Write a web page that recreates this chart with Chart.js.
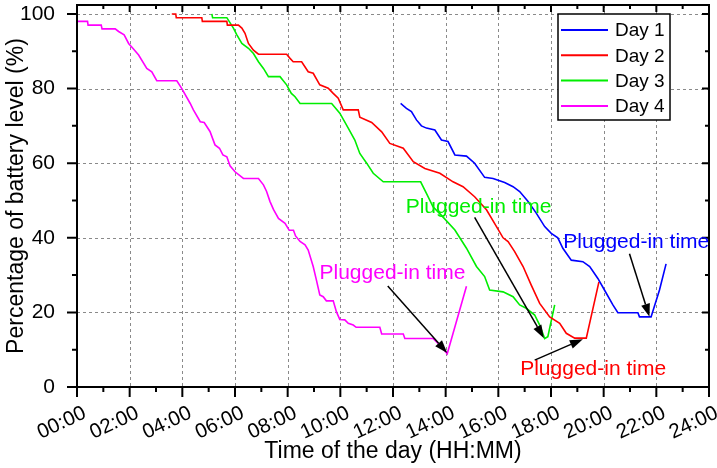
<!DOCTYPE html>
<html>
<head>
<meta charset="utf-8">
<script src="https://cdn.jsdelivr.net/npm/chart.js@4/dist/chart.umd.min.js"></script>
<style>
  html, body { margin: 0; padding: 0; background: #fff; }
  #wrap { width: 717px; height: 468px; }
</style>
</head>
<body>
<div id="wrap"><canvas id="bateria" width="717" height="468"></canvas></div>
<script>
// Datos: hora del día (h) y nivel de batería (%)
const day1Hours = [12.29, 12.51, 12.7, 12.89, 13.08, 13.27, 13.59, 13.84, 14.09, 14.35, 14.79, 15.1, 15.48, 15.8, 16.24, 16.56, 16.81, 17.13, 17.44, 17.76, 18.01, 18.26, 18.45, 18.77, 19.21, 19.47, 19.78, 20.03, 20.35, 20.54, 21.3, 21.36, 21.8, 22.12, 22.37];
const day1Level = [76, 74.7, 73.8, 71.6, 70, 69.4, 68.9, 66.2, 65.8, 62.2, 61.9, 60, 56.2, 55.9, 54.8, 53.7, 52.4, 49.7, 46.6, 43, 41.2, 40, 37.2, 34, 33.6, 32.3, 29.1, 26, 22, 19.9, 19.9, 18.8, 18.8, 26, 33];

const day2Hours = [3.6, 3.75, 3.77, 4.74, 4.76, 5.69, 5.71, 6.13, 6.26, 6.38, 6.51, 6.7, 6.89, 7.96, 8.09, 8.21, 8.53, 8.78, 8.97, 9.22, 9.54, 9.73, 9.92, 10.11, 10.68, 10.74, 11.19, 11.57, 11.88, 12.39, 12.77, 13.21, 13.78, 14.28, 14.66, 15.1, 15.55, 15.93, 16.18, 16.37, 16.62, 16.94, 17.25, 17.57, 17.95, 18.33, 18.58, 18.9, 19.34, 19.82];
const day2Level = [100, 100, 99, 99, 98, 98, 97, 97, 96.2, 94.8, 92.1, 90.3, 89.2, 89.2, 88.1, 87.2, 87.2, 84.5, 84.1, 81, 80.1, 78.7, 77.4, 74.3, 74.3, 72.3, 70.9, 68.4, 65.3, 64, 60.4, 58.6, 57.3, 55, 53.7, 51, 47.5, 43, 40, 39, 36.3, 32.3, 27.3, 22.4, 18.8, 17.1, 14.4, 13.1, 13.1, 28.2];

const day3Hours = [5.12, 5.15, 5.69, 5.94, 6.07, 6.26, 6.51, 6.7, 6.89, 7.08, 7.27, 7.71, 7.96, 8.14, 8.28, 8.47, 9.67, 9.98, 10.3, 10.55, 10.74, 11.0, 11.25, 11.63, 13.05, 13.27, 13.52, 13.84, 14.35, 14.79, 15.17, 15.48, 15.67, 16.18, 16.56, 16.81, 17.06, 17.38, 17.57, 17.76, 17.88, 18.14];
const day3Level = [100, 99, 99, 96.2, 94.4, 92.1, 90.8, 89.4, 87.2, 85.4, 83.2, 83.2, 81, 78.7, 77.8, 76, 76, 73.4, 69.4, 66.2, 62.6, 60, 57.3, 55, 55, 51.9, 48.3, 46, 42.1, 37.2, 32.3, 29.6, 26, 25.5, 24.2, 22, 21.1, 19.3, 16.6, 13, 13.5, 22];

const day4Hours = [0, 0.4, 0.42, 0.92, 0.95, 1.45, 1.58, 1.79, 1.96, 2.12, 2.34, 2.65, 2.84, 3.03, 3.79, 3.98, 4.3, 4.42, 4.68, 4.83, 5.05, 5.24, 5.41, 5.54, 5.69, 5.81, 6.0, 6.32, 6.89, 7.08, 7.2, 7.33, 7.46, 7.65, 7.9, 8.06, 8.22, 8.3, 8.47, 8.66, 8.78, 8.97, 9.09, 9.22, 9.35, 9.47, 9.73, 9.85, 9.98, 10.17, 10.3, 10.49, 10.6, 11.5, 11.57, 12.39, 12.45, 13.52, 13.84, 14.06, 14.79];
const day4Level = [98, 98, 97, 97, 96, 96, 95.3, 94.4, 92.1, 90.8, 89, 85.4, 84.5, 82.1, 82.1, 80, 76, 74.3, 71.1, 70.9, 68.5, 64.9, 64, 62.2, 61.7, 59.3, 57.7, 55.9, 55.9, 54.2, 52.4, 49.7, 47.6, 45.2, 43.9, 42, 42, 40.5, 39, 38.1, 36.7, 32.3, 28.7, 24.7, 24.2, 23.1, 23.1, 20.2, 18.1, 18, 17.1, 16.6, 16, 16, 14.2, 14.2, 13, 13, 10.8, 8.9, 27];

const dayLabels = ['Day 1', 'Day 2', 'Day 3', 'Day 4'];
const dayColors = ['#0000ff', '#ff0000', '#00ee00', '#ff00ff'];

// Ejes
const hourTicks = [0, 1, 2, 3, 4, 5, 6, 7, 8, 9, 10, 11, 12, 13, 14, 15, 16, 17, 18, 19, 20, 21, 22, 23, 24];
const levelTicks = [0, 10, 20, 30, 40, 50, 60, 70, 80, 90, 100];

// Anotaciones "Plugged-in time" (en unidades de datos), orden Day 1..Day 4
const noteText = ['Plugged-in time', 'Plugged-in time', 'Plugged-in time', 'Plugged-in time'];
const noteX = [21.24, 19.6, 15.25, 11.98];
const noteY = [38.9, 4.7, 48.3, 30.6];
const arrowFromX = [20.98, 17.38, 15.1, 11.8];
const arrowFromY = [35.7, 7.2, 45.5, 27.1];
const arrowToX = [21.74, 19.21, 17.73, 14.06];
const arrowToY = [18.8, 12.8, 13.1, 9.1];

const FONT = '"Liberation Sans", Arial, sans-serif';

const toPoints = (hs, vs) => hs.map((h, i) => ({ x: h, y: vs[i] }));
const series = [
  toPoints(day1Hours, day1Level),
  toPoints(day2Hours, day2Level),
  toPoints(day3Hours, day3Level),
  toPoints(day4Hours, day4Level)
];

// Rejilla punteada, marco y marcas de los ejes
const marcoPlugin = {
  id: 'marco',
  beforeDatasetsDraw(chart) {
    const { ctx, chartArea: a, scales: { x, y } } = chart;
    ctx.save();
    ctx.strokeStyle = '#8a8a8a';
    ctx.lineWidth = 1;
    ctx.setLineDash([3, 3]);
    ctx.beginPath();
    hourTicks.filter(h => h % 2 === 0 && h > 0 && h < 24).forEach(h => {
      const px = Math.round(x.getPixelForValue(h)) + 0.5;
      ctx.moveTo(px, a.top); ctx.lineTo(px, a.bottom);
    });
    levelTicks.filter(v => v % 20 === 0 && v > 0).forEach(v => {
      const py = Math.round(y.getPixelForValue(v)) + 0.5;
      ctx.moveTo(a.left, py); ctx.lineTo(a.right, py);
    });
    ctx.stroke();
    ctx.restore();
  },
  afterDatasetsDraw(chart) {
    const { ctx, chartArea: a, scales: { x, y } } = chart;
    ctx.save();
    ctx.strokeStyle = '#000';
    ctx.lineWidth = 2;
    ctx.beginPath();
    hourTicks.forEach(h => {
      const px = x.getPixelForValue(h);
      const major = h % 2 === 0;
      ctx.moveTo(px, a.bottom); ctx.lineTo(px, a.bottom + (major ? 10 : 5));
      ctx.moveTo(px, a.top); ctx.lineTo(px, a.top + (major ? 7 : 4));
    });
    levelTicks.forEach(v => {
      const py = y.getPixelForValue(v);
      const major = v % 20 === 0;
      ctx.moveTo(a.left, py); ctx.lineTo(a.left - (major ? 10 : 5), py);
      ctx.moveTo(a.right, py); ctx.lineTo(a.right - (major ? 7 : 4), py);
    });
    ctx.stroke();
    ctx.strokeRect(a.left, a.top, a.right - a.left, a.bottom - a.top);
    ctx.restore();
  },
  afterDraw(chart) {
    const { ctx, chartArea: a, scales: { x, y } } = chart;
    ctx.save();
    // flechas
    ctx.strokeStyle = '#000';
    ctx.fillStyle = '#000';
    ctx.lineWidth = 1.5;
    arrowFromX.forEach((fx, i) => {
      const x0 = x.getPixelForValue(fx), y0 = y.getPixelForValue(arrowFromY[i]);
      const x1 = x.getPixelForValue(arrowToX[i]), y1 = y.getPixelForValue(arrowToY[i]);
      const ang = Math.atan2(y1 - y0, x1 - x0);
      const len = 13, half = 4.5;
      const bx = x1 - len * Math.cos(ang), by = y1 - len * Math.sin(ang);
      ctx.beginPath();
      ctx.moveTo(x0, y0); ctx.lineTo(bx, by);
      ctx.stroke();
      ctx.beginPath();
      ctx.moveTo(x1, y1);
      ctx.lineTo(bx + half * Math.sin(ang), by - half * Math.cos(ang));
      ctx.lineTo(bx - half * Math.sin(ang), by + half * Math.cos(ang));
      ctx.closePath();
      ctx.fill();
    });
    // textos
    ctx.font = '21px ' + FONT;
    ctx.textAlign = 'center';
    ctx.textBaseline = 'middle';
    noteText.forEach((t, i) => {
      ctx.fillStyle = dayColors[i];
      ctx.fillText(t, x.getPixelForValue(noteX[i]), y.getPixelForValue(noteY[i]));
    });
    // leyenda dentro del área
    const bx = a.right - 151, by = a.top + 9, bw = 112, bh = 106;
    ctx.fillStyle = '#fff';
    ctx.fillRect(bx, by, bw, bh);
    ctx.strokeStyle = '#000';
    ctx.lineWidth = 1.5;
    ctx.strokeRect(bx, by, bw, bh);
    ctx.font = '19px ' + FONT;
    ctx.textAlign = 'left';
    dayLabels.forEach((lab, i) => {
      const ry = by + 16 + i * 25.3;
      ctx.strokeStyle = dayColors[i];
      ctx.lineWidth = 2;
      ctx.beginPath();
      ctx.moveTo(bx + 3, ry); ctx.lineTo(bx + 50, ry);
      ctx.stroke();
      ctx.fillStyle = '#000';
      ctx.fillText(lab, bx + 57, ry + 1);
    });
    ctx.restore();
  }
};

new Chart(document.getElementById('bateria'), {
  type: 'line',
  data: {
    datasets: series.map((pts, i) => ({
      label: dayLabels[i],
      data: pts,
      borderColor: dayColors[i],
      backgroundColor: dayColors[i],
      borderWidth: 1.6,
      pointRadius: 0,
      tension: 0,
      fill: false
    }))
  },
  options: {
    responsive: false,
    animation: false,
    events: [],
    layout: { padding: { top: 5, right: 8, left: 0, bottom: 0 } },
    plugins: {
      legend: { display: false },
      tooltip: { enabled: false }
    },
    scales: {
      x: {
        type: 'linear',
        min: 0,
        max: 24,
        grid: { display: false },
        border: { display: false },
        afterBuildTicks: s => { s.ticks = hourTicks.map(v => ({ value: v })); },
        afterFit: s => { s.height = 81; s.paddingLeft = 0; s.paddingRight = 0; s.paddingTop = 0; s.paddingBottom = 0; },
        ticks: {
          autoSkip: false,
          minRotation: 25,
          maxRotation: 25,
          padding: 6,
          labelOffset: 8,
          color: '#000',
          font: { family: FONT, size: 20.5 },
          callback: v => (v % 2 === 0 ? String(v).padStart(2, '0') + ':00' : '')
        },
        title: {
          display: true,
          text: 'Time of the day (HH:MM)',
          color: '#000',
          font: { family: FONT, size: 23 },
          padding: { top: 0, bottom: 3 }
        }
      },
      y: {
        min: 0,
        max: 102.4,
        grid: { display: false },
        border: { display: false },
        afterBuildTicks: s => { s.ticks = levelTicks.map(v => ({ value: v })); },
        afterFit: s => { s.width = 77; s.paddingTop = 0; s.paddingBottom = 0; s.paddingLeft = 0; s.paddingRight = 0; },
        ticks: {
          padding: 14,
          color: '#000',
          font: { family: FONT, size: 21 },
          callback: v => (v % 20 === 0 ? String(v) : '')
        },
        title: {
          display: true,
          text: 'Percentage of battery level (%)',
          color: '#000',
          font: { family: FONT, size: 23 },
          padding: { top: 3, bottom: 0 }
        }
      }
    }
  },
  plugins: [marcoPlugin]
});
</script>
</body>
</html>
